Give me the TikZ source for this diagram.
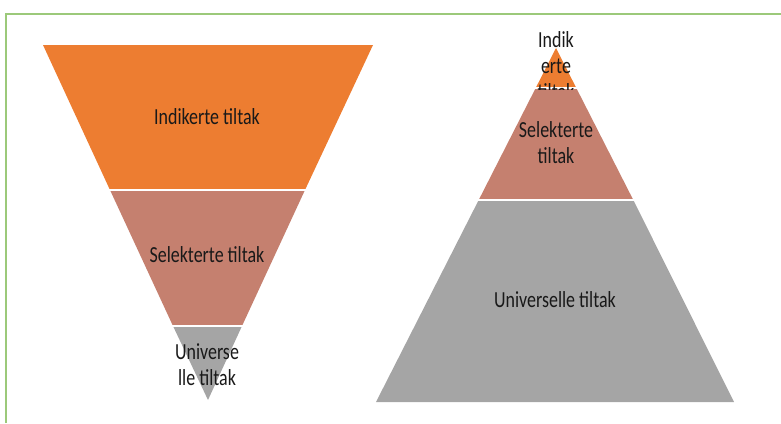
\documentclass[tikz,border=0pt]{standalone}
\usepackage{fontspec}
\setmainfont{Carlito}
\newfontfamily\narrowfont[FakeStretch=0.78]{Carlito}
\usepackage{xcolor}
\definecolor{indorange}{HTML}{ED7D31}
\definecolor{selsalmon}{HTML}{C5806F}
\definecolor{unigray}{HTML}{A5A5A5}
\definecolor{framegreen}{HTML}{9CC97A}

\begin{document}
\begin{tikzpicture}[
x=1pt, y=-1pt,
sep/.style={draw=white, line width=2pt},
every node/.style={font=\narrowfont\fontsize{23}{26}\selectfont, text=black!90, align=center, inner sep=0pt},
]
\useasboundingbox (0,0) rectangle (781,423);
% frame
\draw[framegreen, line width=2pt] (6,423) -- (6,14) -- (781,14);

%% inverted pyramid
% bands
\fill[indorange] (43,45) -- (373,45) -- (305,190) -- (110,190) -- cycle;
\fill[selsalmon] (110,190) -- (305,190) -- (242,326) -- (173,326) -- cycle;
\fill[unigray] (173,326) -- (242,326) -- (208,400) -- cycle;
\draw[sep] (105,190) -- (310,190);
\draw[sep] (168,326) -- (247,326);
% labels
\node (indL) at (207,117) {Indikerte tiltak};
\node (selL) at (207,255) {Selekterte tiltak};
\node (uniL) at (207,365) {Universe\\lle tiltak};

%% pyramid
% bands
\fill[indorange] (556,48) -- (576.3,88) -- (535.7,88) -- cycle;
\fill[selsalmon] (535.7,88) -- (576.3,88) -- (633.3,200) -- (478.7,200) -- cycle;
\fill[unigray] (478.7,200) -- (633.3,200) -- (734,402) -- (376,402) -- cycle;
\draw[sep] (530,88) -- (582,88);
\draw[sep] (473,200) -- (639,200);
% labels
\begin{scope}
\clip (470,0) rectangle (640,89);
\node (indR) at (556,66) {Indik\\erte\\tiltak};
\end{scope}
\node (selR) at (556,143) {Selekterte\\tiltak};
\node (uniR) at (555,300) {Universelle tiltak};
\end{tikzpicture}
\end{document}
